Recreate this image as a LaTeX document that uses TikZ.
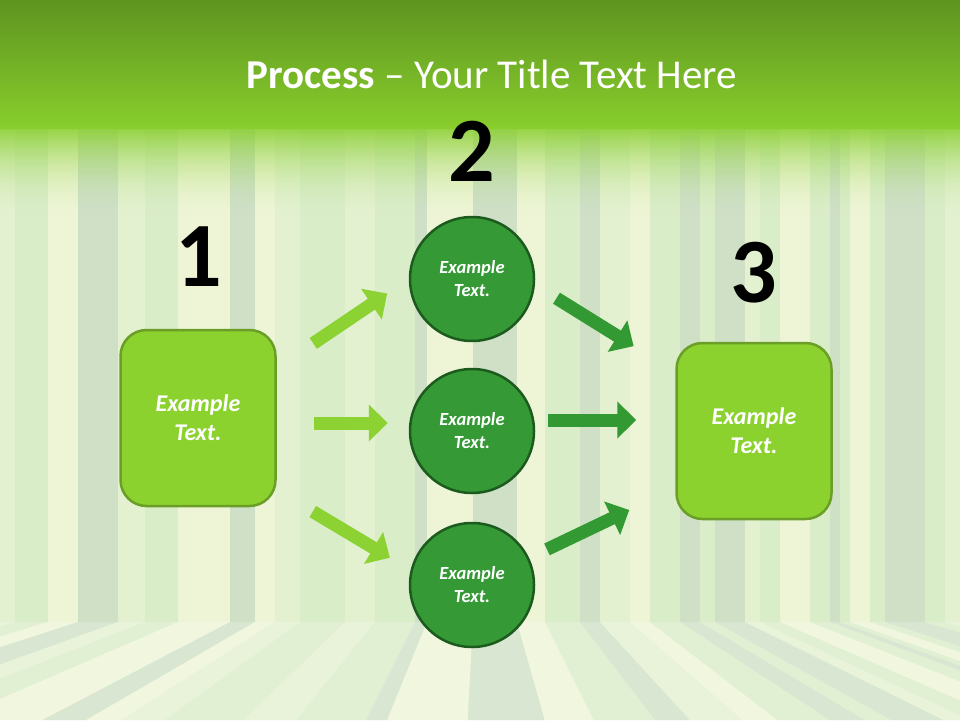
\documentclass[tikz,border=0pt]{standalone}
\usepackage{fontspec}
\setmainfont{Carlito}
\usetikzlibrary{arrows.meta}

\definecolor{bandtop}{HTML}{5E9420}
\definecolor{bandbot}{HTML}{88CE2C}
\definecolor{sA}{HTML}{EDF5D6}
\definecolor{sB}{HTML}{DAEDC9}
\definecolor{sC}{HTML}{CFE0C7}
\definecolor{sD}{HTML}{E3F1D0}
\definecolor{boxfill}{HTML}{8CD22F}
\definecolor{boxline}{HTML}{6A9E26}
\definecolor{circfill}{HTML}{359A36}
\definecolor{circline}{HTML}{1C5A1E}
\definecolor{lightarr}{HTML}{8CD232}
\definecolor{darkarr}{HTML}{339933}

\tikzset{
  stagebox/.style={draw=boxline, fill=boxfill, line width=2.5pt, rounded corners=26pt,
    minimum width=155pt, minimum height=176pt, text=white, align=center,
    font=\bfseries\itshape\fontsize{24}{29}\selectfont},
  stagecircle/.style={circle, draw=circline, fill=circfill, line width=2.5pt,
    minimum size=124pt, inner sep=0pt, text=white, align=center,
    font=\bfseries\itshape\fontsize{18.5}{23}\selectfont},
  stagenum/.style={font=\bfseries\fontsize{92}{92}\selectfont},
  lightarrow/.style={draw=lightarr, line width=13pt, -{Triangle[width=36pt,length=19pt]}},
  darkarrow/.style={draw=darkarr, line width=13pt, -{Triangle[width=36pt,length=19pt]}}
}

\begin{document}
\begin{tikzpicture}[x=1pt, y=-1pt]

	\useasboundingbox (0,0) rectangle (960,720);

	% Striped wall and floor

	\fill [sD] (0,0) rectangle (960,720);
	\begin{scope}
		\clip (0,0) rectangle (960,720);
		\foreach \a/\b/\c in {0/15/sD, 15/48/sB, 48/78/sA, 78/118/sC, 118/145/sD, 145/178/sB,
				178/230/sA, 230/255/sC, 255/275/sA, 275/300/sD, 300/345/sB, 345/375/sD,
				375/415/sB, 415/427/sC, 427/473/sA, 473/517/sC, 517/545/sA, 545/580/sB,
				580/600/sC, 600/630/sD, 630/650/sA, 650/680/sB, 680/700/sC, 700/715/sB,
				715/745/sC, 745/760/sD, 760/780/sB, 780/810/sA, 810/830/sB, 830/840/sC,
				840/850/sB, 850/870/sA, 870/885/sB, 885/925/sC, 925/945/sB, 945/960/sD} {
			\fill [\c] (\a,120) rectangle (\b,622);
			\fill [\c] (\a,622) -- (\b,622) -- ({480+(\b-480)*1.75},720) -- ({480+(\a-480)*1.75},720) -- cycle;
		}
		\fill [white, opacity=0.2] (0,622) rectangle (960,720);
	\end{scope}

	% Title band with soft lower edge

	\shade [top color=bandtop, bottom color=bandbot] (0,0) rectangle (960,128);
	\foreach \i in {0,...,44}
		\fill [bandbot, opacity={0.85*(1-\i/45)^2}] (0,128+2*\i) rectangle (960,130+2*\i);
	\node (title) at (492,74) [text=white, font=\fontsize{41}{48}\selectfont]
		{\textbf{Process} -- Your Title Text Here};

	% Stages

	\node (box1) at (198,418) [stagebox] {Example\\Text.};
	\node (box3) at (754,431) [stagebox] {Example\\Text.};
	\node (c1) at (472,279) [stagecircle] {Example\\Text.};
	\node (c2) at (472,431) [stagecircle] {Example\\Text.};
	\node (c3) at (472,585) [stagecircle] {Example\\Text.};

	\node (n1) at (199,257) [stagenum] {1};
	\node (n2) at (472,151) [stagenum] {2};
	\node (n3) at (754,273) [stagenum] {3};

	% Arrows

	\draw [lightarrow, shorten <=44pt, shorten >=26pt] ([yshift=50pt]box1.east) -- (c1.west);
	\draw [lightarrow, shorten <=37pt, shorten >=21pt] ([yshift=-5pt]box1.east) -- ([yshift=8pt]c2.west);
	\draw [lightarrow, shorten <=42pt, shorten >=22pt] ([yshift=-72pt]box1.east) -- ([yshift=16pt]c3.west);

	\draw [darkarrow, shorten <=25pt, shorten >=49pt] ([yshift=-6pt]c1.east) -- ([yshift=59pt]box3.west);
	\draw [darkarrow, shorten <=13pt, shorten >=39pt] ([yshift=11pt]c2.east) -- ([yshift=11pt]box3.west);
	\draw [darkarrow, shorten <=13pt, shorten >=51pt] ([yshift=30pt]c3.east) -- ([yshift=-57pt]box3.west);

\end{tikzpicture}
\end{document}
